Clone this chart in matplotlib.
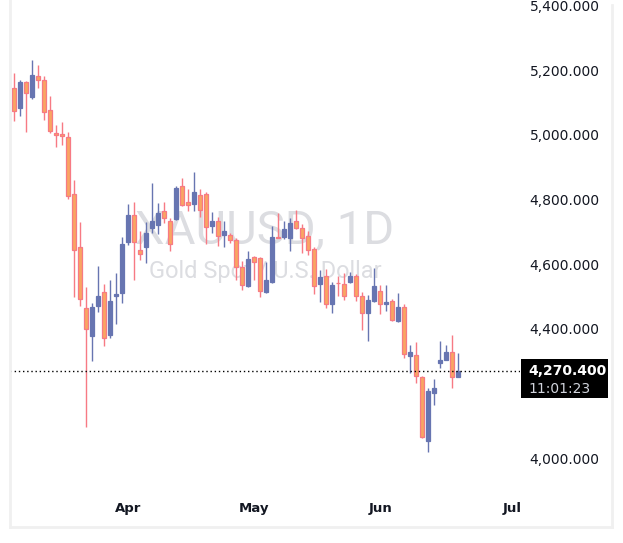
import numpy as np
import matplotlib
matplotlib.use('Agg')
import matplotlib.pyplot as plt
from matplotlib.patches import Rectangle
from matplotlib.lines import Line2D
from matplotlib.transforms import blended_transform_factory

# =========================================================
# data: XAUUSD daily candles
# =========================================================
opens = [5144, 5083, 5164, 5118, 5182, 5169, 5076, 5006, 5003, 4994,
         4817, 4653, 4465, 4377, 4469, 4514, 4380, 4502, 4509, 4667,
         4753, 4644, 4654, 4710, 4721, 4764, 4733, 4739, 4842, 4793,
         4785, 4814, 4817, 4716, 4734, 4691, 4690, 4674, 4592, 4532,
         4623, 4619, 4513, 4543, 4684, 4685, 4681, 4734, 4711, 4686,
         4647, 4538, 4562, 4477, 4542, 4538, 4543, 4564, 4502, 4448,
         4487, 4515, 4477, 4485, 4423, 4468, 4315, 4320, 4252, 4054,
         4200, 4293, 4304, 4327, 4250]
highs = [5190, 5170, 5165, 5232, 5216, 5182, 5120, 5031, 5038, 5009,
         4861, 4731, 4530, 4478, 4595, 4539, 4550, 4573, 4682, 4786,
         4791, 4701, 4729, 4852, 4788, 4791, 4742, 4842, 4866, 4832,
         4886, 4832, 4824, 4760, 4744, 4732, 4695, 4681, 4610, 4641,
         4626, 4623, 4605, 4716, 4758, 4732, 4742, 4767, 4724, 4703,
         4654, 4580, 4584, 4543, 4564, 4571, 4574, 4570, 4512, 4505,
         4588, 4534, 4536, 4491, 4509, 4475, 4348, 4358, 4254, 4216,
         4243, 4363, 4351, 4379, 4324]
lows = [5043, 5057, 5007, 5109, 5143, 5046, 5004, 4961, 4968, 4800,
        4497, 4471, 4095, 4301, 4451, 4346, 4370, 4413, 4479, 4658,
        4549, 4611, 4602, 4695, 4693, 4727, 4641, 4736, 4780, 4765,
        4765, 4744, 4662, 4696, 4657, 4654, 4664, 4551, 4520, 4530,
        4549, 4497, 4510, 4540, 4679, 4678, 4641, 4708, 4634, 4629,
        4508, 4482, 4463, 4448, 4502, 4489, 4540, 4487, 4397, 4361,
        4484, 4446, 4456, 4425, 4420, 4310, 4263, 4231, 4062, 4020,
        4165, 4278, 4302, 4216, 4250]
closes = [5072, 5164, 5129, 5185, 5169, 5070, 5010, 4998, 4995, 4810,
          4644, 4492, 4399, 4468, 4502, 4372, 4487, 4506, 4663, 4753,
          4668, 4631, 4697, 4733, 4759, 4742, 4662, 4836, 4783, 4781,
          4823, 4766, 4713, 4734, 4687, 4703, 4674, 4590, 4535, 4616,
          4607, 4518, 4552, 4685, 4681, 4708, 4727, 4710, 4681, 4644,
          4533, 4561, 4477, 4536, 4540, 4502, 4564, 4502, 4449, 4490,
          4533, 4477, 4482, 4427, 4468, 4322, 4327, 4254, 4064, 4206,
          4216, 4304, 4327, 4250, 4270.4]

month_labels = ['Apr', 'May', 'Jun', 'Jul']
month_pos = [19, 40, 61, 83]          # candle index of first session of month
price_ticks = [4000, 4400, 4600, 4800, 5000, 5200, 5400]
last_price = closes[-1]
countdown = '11:01:23'
symbol = 'XAUUSD, 1D'
description = 'Gold Spot / U.S. Dollar'

# =========================================================
# style
# =========================================================
up_color = '#6775b1'
down_fill = '#f9a562'
down_edge = '#f77a84'
text_color = '#131722'
frame_color = '#f0f0f0'

W, H = 623, 543
fig = plt.figure(figsize=(W / 100, H / 100), dpi=100)
fig.patch.set_facecolor('white')

def fx(px):
    return px / W

def fy(py):
    return 1 - py / H

# ── price pane ───────────────────────────────────────────
ax_left, ax_right, ax_top, ax_bottom = 10, 520, 0, 495
ax = fig.add_axes([fx(ax_left), fy(ax_bottom),
                   fx(ax_right - ax_left), (ax_bottom - ax_top) / H])
ax.set_facecolor('white')

o = np.array(opens, dtype=float)
h = np.array(highs, dtype=float)
l = np.array(lows, dtype=float)
c = np.array(closes, dtype=float)
x = np.arange(len(o))
up = c >= o

edge = np.where(up, up_color, down_edge)
fill = np.where(up, up_color, down_fill)

ax.vlines(x, l, h, colors=edge, linewidth=1.0, zorder=2)
body_bottom = np.minimum(o, c)
body_h = np.maximum(np.abs(c - o), 1.5)
ax.bar(x, body_h, bottom=body_bottom, width=0.62, color=fill,
       edgecolor=edge, linewidth=0.9, zorder=3)

ax.axhline(last_price, color='black', linestyle=(0, (1, 2)),
           linewidth=1.0, zorder=4)

ax.set_xlim(-0.72, 84.28)
ax.set_ylim(3885.6, 5416.5)

ax.yaxis.tick_right()
ax.set_yticks(price_ticks)
ax.yaxis.set_major_formatter(plt.FuncFormatter(lambda v, _: f'{v:,.3f}'))
ax.tick_params(axis='y', length=0, pad=7, labelsize=10, labelcolor=text_color)
ax.set_xticks([])
for s in ax.spines.values():
    s.set_visible(False)

# watermark
ax.text(0.5, 0.509, symbol, transform=ax.transAxes, ha='center',
        va='baseline', fontsize=34, family='Roboto', color='#dcdde1', zorder=1)
ax.text(0.5, 0.438, description, transform=ax.transAxes, ha='center',
        va='baseline', fontsize=17, family='Roboto', color='#dcdde1', zorder=1)

# ── time scale ───────────────────────────────────────────
tax = fig.add_axes([fx(ax_left), fy(526), fx(ax_right - ax_left), (526 - ax_bottom) / H])
tax.set_xlim(ax.get_xlim())
tax.set_ylim(0, 1)
tax.axis('off')
for lbl, pos in zip(month_labels, month_pos):
    tax.text(pos, 0.58, lbl, ha='center', va='center', fontsize=9.5,
             fontweight='bold', color=text_color, clip_on=True)

# ── last price label ─────────────────────────────────────
ppx = (5416.5 - 3885.6) / (ax_bottom - ax_top)
trans = blended_transform_factory(fig.transFigure, ax.transData)
ax.add_patch(Rectangle((fx(520.7), last_price - 27 * ppx), fx(87.6), 38.5 * ppx,
                       transform=trans, facecolor='black', edgecolor='none',
                       zorder=10, clip_on=False))
ax.text(fx(528), last_price, f'{last_price:,.3f}', transform=trans,
        ha='left', va='center', fontsize=10, fontweight='bold',
        color='white', zorder=11, clip_on=False)
ax.text(fx(528), last_price - 18 * ppx, countdown, transform=trans,
        ha='left', va='center', fontsize=10, color='#d1d4dc',
        zorder=11, clip_on=False)

# ── outer frame ──────────────────────────────────────────
fig.add_artist(Line2D([fx(10), fx(10)], [fy(0), fy(527)], color=frame_color, linewidth=2))
fig.add_artist(Line2D([fx(612), fx(612)], [fy(5), fy(527)], color=frame_color, linewidth=2))
fig.add_artist(Line2D([fx(10), fx(612)], [fy(527), fy(527)], color=frame_color, linewidth=2))

fig.savefig('out.png', dpi=100)
